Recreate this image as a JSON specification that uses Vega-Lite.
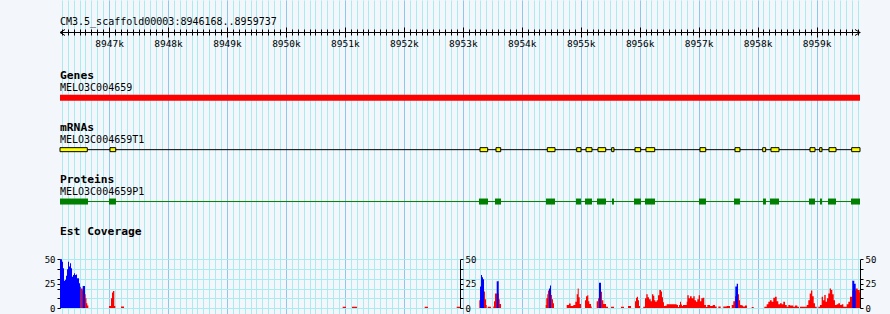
{
 "$schema": "https://vega.github.io/schema/vega-lite/v6.json",
 "width": 890, "height": 314, "padding": 0, "autosize": {"type": "none"},
 "background": "#f3f6fa",
 "config": {"view": {"stroke": null}, "font": "DejaVu Sans Mono", "axis": {"labelFont": "DejaVu Sans Mono", "titleFont": "DejaVu Sans Mono"}},
 "datasets": {
  "region": [{"seq": "CM3.5_scaffold00003", "start": 8946168, "end": 8959737, "label": "CM3.5_scaffold00003:8946168..8959737"}],
  "ends": [{"side": "left", "pos": 8946168}, {"side": "right", "pos": 8959737}],
  "titles": [{"track": "Genes"}, {"track": "mRNAs"}, {"track": "Proteins"}, {"track": "Est Coverage"}],
  "features": [
   {"track": "Genes", "name": "MELO3C004659", "start": 8946168, "end": 8959737},
   {"track": "mRNAs", "name": "MELO3C004659T1", "start": 8946168, "end": 8959737},
   {"track": "Proteins", "name": "MELO3C004659P1", "start": 8946168, "end": 8959737}
  ],
  "parts": [
   {"track": "mRNAs", "start": 8946168, "end": 8946631}, {"track": "mRNAs", "start": 8947016, "end": 8947113},
   {"track": "mRNAs", "start": 8953292, "end": 8953422}, {"track": "mRNAs", "start": 8953563, "end": 8953643},
   {"track": "mRNAs", "start": 8954433, "end": 8954564}, {"track": "mRNAs", "start": 8954932, "end": 8955005},
   {"track": "mRNAs", "start": 8955090, "end": 8955191}, {"track": "mRNAs", "start": 8955293, "end": 8955424},
   {"track": "mRNAs", "start": 8955525, "end": 8955564}, {"track": "mRNAs", "start": 8955921, "end": 8956017},
   {"track": "mRNAs", "start": 8956107, "end": 8956255}, {"track": "mRNAs", "start": 8957023, "end": 8957120},
   {"track": "mRNAs", "start": 8957617, "end": 8957701}, {"track": "mRNAs", "start": 8958087, "end": 8958137},
   {"track": "mRNAs", "start": 8958227, "end": 8958363}, {"track": "mRNAs", "start": 8958889, "end": 8958974},
   {"track": "mRNAs", "start": 8959053, "end": 8959092}, {"track": "mRNAs", "start": 8959211, "end": 8959330},
   {"track": "mRNAs", "start": 8959596, "end": 8959737},
   {"track": "Proteins", "start": 8946168, "end": 8946643}, {"track": "Proteins", "start": 8946999, "end": 8947118},
   {"track": "Proteins", "start": 8953275, "end": 8953427}, {"track": "Proteins", "start": 8953546, "end": 8953648},
   {"track": "Proteins", "start": 8954411, "end": 8954564}, {"track": "Proteins", "start": 8954920, "end": 8955005},
   {"track": "Proteins", "start": 8955073, "end": 8955191}, {"track": "Proteins", "start": 8955276, "end": 8955429},
   {"track": "Proteins", "start": 8955530, "end": 8955564}, {"track": "Proteins", "start": 8955904, "end": 8956022},
   {"track": "Proteins", "start": 8956090, "end": 8956260}, {"track": "Proteins", "start": 8957006, "end": 8957125},
   {"track": "Proteins", "start": 8957600, "end": 8957701}, {"track": "Proteins", "start": 8958092, "end": 8958142},
   {"track": "Proteins", "start": 8958210, "end": 8958363}, {"track": "Proteins", "start": 8958872, "end": 8958974},
   {"track": "Proteins", "start": 8959058, "end": 8959092}, {"track": "Proteins", "start": 8959194, "end": 8959330},
   {"track": "Proteins", "start": 8959584, "end": 8959737}
  ],
  "plus": [
   {"pos": 8946168, "depth": 50}, {"pos": 8946202, "depth": 47.6}, {"pos": 8946219, "depth": 40.7}, {"pos": 8946236, "depth": 28},
   {"pos": 8946253, "depth": 29}, {"pos": 8946270, "depth": 33}, {"pos": 8946287, "depth": 39.7}, {"pos": 8946304, "depth": 47.6},
   {"pos": 8946321, "depth": 42.5}, {"pos": 8946338, "depth": 45.9}, {"pos": 8946355, "depth": 40.7}, {"pos": 8946372, "depth": 32.2},
   {"pos": 8946389, "depth": 33.9}, {"pos": 8946405, "depth": 35.6}, {"pos": 8946422, "depth": 33.9}, {"pos": 8946439, "depth": 34.5},
   {"pos": 8946456, "depth": 30.5}, {"pos": 8946490, "depth": 25.3}, {"pos": 8946507, "depth": 21.9}, {"pos": 8946519, "depth": 0},
   {"pos": 8946553, "depth": 22.6}, {"pos": 8946592, "depth": 0},
   {"pos": 8953292, "depth": 22}, {"pos": 8953309, "depth": 34}, {"pos": 8953326, "depth": 31.5}, {"pos": 8953343, "depth": 29.5}, {"pos": 8953360, "depth": 0},
   {"pos": 8953575, "depth": 27.4}, {"pos": 8953609, "depth": 0},
   {"pos": 8954462, "depth": 20}, {"pos": 8954479, "depth": 23}, {"pos": 8954496, "depth": 0},
   {"pos": 8955310, "depth": 26}, {"pos": 8955344, "depth": 0},
   {"pos": 8957622, "depth": 22}, {"pos": 8957646, "depth": 25}, {"pos": 8957668, "depth": 0},
   {"pos": 8959606, "depth": 28}, {"pos": 8959640, "depth": 25}, {"pos": 8959664, "depth": 0}
  ],
  "minus": [
   {"pos": 8946519, "depth": 20}, {"pos": 8946553, "depth": 18}, {"pos": 8946592, "depth": 14}, {"pos": 8946604, "depth": 10},
   {"pos": 8946617, "depth": 5}, {"pos": 8946631, "depth": 2.5}, {"pos": 8946648, "depth": 0},
   {"pos": 8946999, "depth": 2}, {"pos": 8947033, "depth": 10}, {"pos": 8947050, "depth": 16}, {"pos": 8947067, "depth": 17.5},
   {"pos": 8947089, "depth": 2}, {"pos": 8947106, "depth": 0},
   {"pos": 8947203, "depth": 1.5}, {"pos": 8947254, "depth": 0},
   {"pos": 8950963, "depth": 1.2}, {"pos": 8951019, "depth": 0},
   {"pos": 8951121, "depth": 1.2}, {"pos": 8951206, "depth": 0},
   {"pos": 8952354, "depth": 1.2}, {"pos": 8952410, "depth": 0},
   {"pos": 8952897, "depth": 1.2}, {"pos": 8952953, "depth": 0},
   {"pos": 8953280, "depth": 8}, {"pos": 8953292, "depth": 10}, {"pos": 8953360, "depth": 17}, {"pos": 8953377, "depth": 9},
   {"pos": 8953393, "depth": 3}, {"pos": 8953405, "depth": 0}, {"pos": 8953422, "depth": 1.2}, {"pos": 8953478, "depth": 0},
   {"pos": 8953517, "depth": 1.5}, {"pos": 8953529, "depth": 7}, {"pos": 8953546, "depth": 15}, {"pos": 8953609, "depth": 9},
   {"pos": 8953626, "depth": 4}, {"pos": 8953648, "depth": 0},
   {"pos": 8954406, "depth": 3}, {"pos": 8954416, "depth": 10}, {"pos": 8954433, "depth": 14}, {"pos": 8954445, "depth": 18},
   {"pos": 8954496, "depth": 13.3}, {"pos": 8954513, "depth": 9}, {"pos": 8954530, "depth": 5}, {"pos": 8954547, "depth": 0},
   {"pos": 8954762, "depth": 3}, {"pos": 8954801, "depth": 4.5}, {"pos": 8954830, "depth": 2}, {"pos": 8954874, "depth": 3},
   {"pos": 8954908, "depth": 6.5}, {"pos": 8954932, "depth": 14}, {"pos": 8954949, "depth": 20}, {"pos": 8954966, "depth": 11},
   {"pos": 8954983, "depth": 4}, {"pos": 8955005, "depth": 0},
   {"pos": 8955073, "depth": 8}, {"pos": 8955090, "depth": 12}, {"pos": 8955112, "depth": 13}, {"pos": 8955129, "depth": 7},
   {"pos": 8955146, "depth": 4}, {"pos": 8955174, "depth": 1.5}, {"pos": 8955186, "depth": 0},
   {"pos": 8955271, "depth": 7}, {"pos": 8955293, "depth": 10}, {"pos": 8955344, "depth": 16.8}, {"pos": 8955361, "depth": 8},
   {"pos": 8955383, "depth": 4}, {"pos": 8955429, "depth": 1.4}, {"pos": 8955463, "depth": 0},
   {"pos": 8955514, "depth": 1.4}, {"pos": 8955565, "depth": 0},
   {"pos": 8955683, "depth": 1.4}, {"pos": 8955734, "depth": 0},
   {"pos": 8955802, "depth": 2}, {"pos": 8955853, "depth": 0},
   {"pos": 8955921, "depth": 7}, {"pos": 8955938, "depth": 10.5}, {"pos": 8955955, "depth": 11.6}, {"pos": 8955972, "depth": 8},
   {"pos": 8955989, "depth": 2}, {"pos": 8956006, "depth": 0},
   {"pos": 8956061, "depth": 1.4},
   {"pos": 8956090, "depth": 10}, {"pos": 8956112, "depth": 14}, {"pos": 8956136, "depth": 11}, {"pos": 8956158, "depth": 9},
   {"pos": 8956187, "depth": 7}, {"pos": 8956209, "depth": 14}, {"pos": 8956231, "depth": 12.5}, {"pos": 8956248, "depth": 8},
   {"pos": 8956265, "depth": 6.5}, {"pos": 8956289, "depth": 8}, {"pos": 8956311, "depth": 13}, {"pos": 8956333, "depth": 18.5},
   {"pos": 8956362, "depth": 17}, {"pos": 8956379, "depth": 11}, {"pos": 8956396, "depth": 6}, {"pos": 8956413, "depth": 2},
   {"pos": 8956430, "depth": 2.4}, {"pos": 8956458, "depth": 3.8}, {"pos": 8956565, "depth": 3.8}, {"pos": 8956628, "depth": 3},
   {"pos": 8956650, "depth": 1}, {"pos": 8956667, "depth": 3}, {"pos": 8956684, "depth": 6.4}, {"pos": 8956701, "depth": 3.5},
   {"pos": 8956718, "depth": 2}, {"pos": 8956735, "depth": 3}, {"pos": 8956786, "depth": 3}, {"pos": 8956798, "depth": 6.4},
   {"pos": 8956808, "depth": 13}, {"pos": 8956832, "depth": 10}, {"pos": 8956854, "depth": 12}, {"pos": 8956882, "depth": 10},
   {"pos": 8956910, "depth": 12}, {"pos": 8956933, "depth": 8}, {"pos": 8956955, "depth": 6.5}, {"pos": 8956977, "depth": 9},
   {"pos": 8957001, "depth": 13}, {"pos": 8957023, "depth": 7}, {"pos": 8957045, "depth": 10}, {"pos": 8957069, "depth": 10.5},
   {"pos": 8957096, "depth": 3}, {"pos": 8957125, "depth": 1}, {"pos": 8957147, "depth": 3}, {"pos": 8957193, "depth": 2},
   {"pos": 8957239, "depth": 3}, {"pos": 8957278, "depth": 1.5}, {"pos": 8957306, "depth": 0},
   {"pos": 8957334, "depth": 1.5}, {"pos": 8957374, "depth": 0},
   {"pos": 8957418, "depth": 1.5}, {"pos": 8957476, "depth": 2}, {"pos": 8957532, "depth": 0},
   {"pos": 8957561, "depth": 3}, {"pos": 8957588, "depth": 7}, {"pos": 8957617, "depth": 12}, {"pos": 8957668, "depth": 14},
   {"pos": 8957685, "depth": 8}, {"pos": 8957702, "depth": 3}, {"pos": 8957730, "depth": 2.5}, {"pos": 8957753, "depth": 1.5},
   {"pos": 8957786, "depth": 2.5}, {"pos": 8957820, "depth": 0},
   {"pos": 8957900, "depth": 1}, {"pos": 8957934, "depth": 0},
   {"pos": 8958114, "depth": 1.4}, {"pos": 8958154, "depth": 3.8}, {"pos": 8958182, "depth": 6.4}, {"pos": 8958210, "depth": 8},
   {"pos": 8958239, "depth": 6.4}, {"pos": 8958266, "depth": 10.6}, {"pos": 8958295, "depth": 11.6}, {"pos": 8958324, "depth": 7},
   {"pos": 8958351, "depth": 3.8}, {"pos": 8958380, "depth": 5}, {"pos": 8958409, "depth": 3.8}, {"pos": 8958436, "depth": 6.4},
   {"pos": 8958465, "depth": 3}, {"pos": 8958494, "depth": 1.4}, {"pos": 8958521, "depth": 3}, {"pos": 8958550, "depth": 2.5},
   {"pos": 8958606, "depth": 1.4}, {"pos": 8958635, "depth": 2.5}, {"pos": 8958674, "depth": 1.4}, {"pos": 8958702, "depth": 0},
   {"pos": 8958719, "depth": 1.4}, {"pos": 8958833, "depth": 3}, {"pos": 8958860, "depth": 8}, {"pos": 8958884, "depth": 15},
   {"pos": 8958906, "depth": 18}, {"pos": 8958928, "depth": 12}, {"pos": 8958952, "depth": 5}, {"pos": 8958974, "depth": 1.4},
   {"pos": 8959003, "depth": 0},
   {"pos": 8959030, "depth": 1.4}, {"pos": 8959059, "depth": 3}, {"pos": 8959087, "depth": 11.6}, {"pos": 8959109, "depth": 8},
   {"pos": 8959131, "depth": 13.3}, {"pos": 8959155, "depth": 6.4}, {"pos": 8959177, "depth": 9.9}, {"pos": 8959199, "depth": 15},
   {"pos": 8959223, "depth": 20}, {"pos": 8959245, "depth": 18.5}, {"pos": 8959267, "depth": 14}, {"pos": 8959291, "depth": 8},
   {"pos": 8959313, "depth": 3}, {"pos": 8959342, "depth": 3.8}, {"pos": 8959369, "depth": 4.8}, {"pos": 8959398, "depth": 3},
   {"pos": 8959427, "depth": 3.8}, {"pos": 8959454, "depth": 1.4}, {"pos": 8959511, "depth": 3.8}, {"pos": 8959539, "depth": 6.4},
   {"pos": 8959567, "depth": 11.6}, {"pos": 8959606, "depth": 18}, {"pos": 8959664, "depth": 20}, {"pos": 8959698, "depth": 18.5},
   {"pos": 8959732, "depth": 16}, {"pos": 8959737, "depth": 0}
  ]
 },
 "resolve": {"scale": {"y": "independent"}, "axis": {"x": "independent", "y": "independent"}},
 "layer": [
  {"data": {"name": "region"}, "mark": {"type": "rule", "opacity": 0},
   "encoding": {"x": {"field": "start", "type": "quantitative",
     "scale": {"domain": [8946168, 8959737], "range": [60, 860], "nice": false, "zero": false},
     "axis": {"orient": "bottom", "grid": true, "gridColor": "#a9ebef", "gridOpacity": 1, "gridWidth": 1, "tickCount": 136, "labels": false, "ticks": false, "domain": false, "title": null}}}},
  {"data": {"name": "region"}, "mark": {"type": "rule", "opacity": 0},
   "encoding": {"x": {"field": "start", "type": "quantitative",
     "scale": {"domain": [8946168, 8959737], "range": [60, 860], "nice": false, "zero": false},
     "axis": {"orient": "bottom", "grid": true, "gridColor": "#8cc8ee", "gridOpacity": 1, "gridWidth": 1, "tickCount": 13, "labels": false, "ticks": false, "domain": false, "title": null}}}},
  {"data": {"name": "region"}, "mark": {"type": "rule", "opacity": 0},
   "encoding": {"x": {"field": "start", "type": "quantitative",
     "scale": {"domain": [8946168, 8959737], "range": [60, 860], "nice": false, "zero": false},
     "axis": {"orient": "bottom", "offset": -282, "grid": false, "tickCount": 136, "ticks": true, "tickSize": 3, "tickColor": "#000000", "tickWidth": 1, "labels": false, "domain": true, "domainColor": "#000000", "domainWidth": 1, "title": null}}}},
  {"data": {"name": "region"}, "mark": {"type": "rule", "opacity": 0},
   "encoding": {"x": {"field": "start", "type": "quantitative",
     "scale": {"domain": [8946168, 8959737], "range": [60, 860], "nice": false, "zero": false},
     "axis": {"orient": "bottom", "offset": -282, "grid": false, "tickCount": 13, "ticks": true, "tickSize": 5, "tickColor": "#000000", "tickWidth": 1, "labels": true, "labelExpr": "floor(datum.value / 1000) + 'k'", "labelFontSize": 9.5, "labelColor": "#000000", "labelPadding": 1, "labelOverlap": false, "labelFlush": false, "domain": false, "title": null}}}},
  {"data": {"name": "region"}, "mark": {"type": "rule", "opacity": 0},
   "encoding": {"x": {"field": "start", "type": "quantitative",
     "scale": {"domain": [8946168, 8959737], "range": [60, 860], "nice": false, "zero": false},
     "axis": {"orient": "top", "offset": -32, "grid": false, "tickCount": 136, "ticks": true, "tickSize": 3, "tickColor": "#000000", "tickWidth": 1, "labels": false, "domain": false, "title": null}}}},
  {"data": {"name": "region"}, "mark": {"type": "rule", "opacity": 0},
   "encoding": {"x": {"field": "start", "type": "quantitative",
     "scale": {"domain": [8946168, 8959737], "range": [60, 860], "nice": false, "zero": false},
     "axis": {"orient": "top", "offset": -32, "grid": false, "tickCount": 13, "ticks": true, "tickSize": 5, "tickColor": "#000000", "tickWidth": 1, "labels": false, "domain": false, "title": null}}}},
  {"layer": [
    {"data": {"name": "region"}, "mark": {"type": "text", "align": "left", "baseline": "middle", "dy": -11, "fontSize": 10, "color": "#000000"},
     "encoding": {"x": {"field": "start", "type": "quantitative", "scale": {"domain": [8946168, 8959737], "range": [60, 860], "nice": false, "zero": false}, "axis": null},
      "y": {"datum": "ruler", "type": "nominal", "scale": {"type": "point", "domain": ["ruler"], "range": [0, 65], "padding": 0}, "axis": null},
      "text": {"field": "label"}}},
    {"data": {"name": "ends"}, "mark": {"type": "point", "filled": false, "stroke": "#000000", "strokeWidth": 1, "size": 36, "opacity": 1},
     "encoding": {"x": {"field": "pos", "type": "quantitative", "scale": {"domain": [8946168, 8959737], "range": [60, 860], "nice": false, "zero": false}, "axis": null},
      "y": {"datum": "ruler", "type": "nominal", "scale": {"type": "point", "domain": ["ruler"], "range": [0, 65], "padding": 0}, "axis": null},
      "shape": {"field": "side", "type": "nominal", "scale": {"domain": ["left", "right"], "range": ["M 1.667 -1 L 0 0 L 1.667 1", "M -1.667 -1 L 0 0 L -1.667 1"]}, "legend": null}}}
  ]},
  {"layer": [
    {"data": {"name": "titles"}, "mark": {"type": "text", "align": "left", "baseline": "middle", "dy": -21.8, "fontSize": 11.3, "fontWeight": "bold", "color": "#000000"},
     "encoding": {"x": {"datum": 8946168, "type": "quantitative", "scale": {"domain": [8946168, 8959737], "range": [60, 860], "nice": false, "zero": false}, "axis": null},
      "y": {"field": "track", "type": "nominal", "scale": {"type": "point", "domain": ["Genes", "mRNAs", "Proteins", "Est Coverage"], "range": [97.8, 253.4], "padding": 0}, "axis": null},
      "text": {"field": "track"}}},
    {"data": {"name": "features"}, "mark": {"type": "text", "align": "left", "baseline": "middle", "dy": -9.8, "fontSize": 10, "color": "#000000"},
     "encoding": {"x": {"field": "start", "type": "quantitative", "scale": {"domain": [8946168, 8959737], "range": [60, 860], "nice": false, "zero": false}, "axis": null},
      "y": {"field": "track", "type": "nominal", "scale": {"type": "point", "domain": ["Genes", "mRNAs", "Proteins", "Est Coverage"], "range": [97.8, 253.4], "padding": 0}, "axis": null},
      "text": {"field": "name"}}},
    {"data": {"name": "features"}, "transform": [{"filter": "datum.track === 'Genes'"}],
     "mark": {"type": "bar", "size": 6, "color": "#ff0000"},
     "encoding": {"x": {"field": "start", "type": "quantitative", "scale": {"domain": [8946168, 8959737], "range": [60, 860], "nice": false, "zero": false}, "axis": null},
      "x2": {"field": "end"},
      "y": {"field": "track", "type": "nominal", "scale": {"type": "point", "domain": ["Genes", "mRNAs", "Proteins", "Est Coverage"], "range": [97.8, 253.4], "padding": 0}, "axis": null}}},
    {"data": {"name": "features"}, "transform": [{"filter": "datum.track === 'mRNAs'"}],
     "mark": {"type": "rule", "color": "#000000", "strokeWidth": 1},
     "encoding": {"x": {"field": "start", "type": "quantitative", "scale": {"domain": [8946168, 8959737], "range": [60, 860], "nice": false, "zero": false}, "axis": null},
      "x2": {"field": "end"},
      "y": {"field": "track", "type": "nominal", "scale": {"type": "point", "domain": ["Genes", "mRNAs", "Proteins", "Est Coverage"], "range": [97.8, 253.4], "padding": 0}, "axis": null}}},
    {"data": {"name": "features"}, "transform": [{"filter": "datum.track === 'Proteins'"}],
     "mark": {"type": "rule", "color": "#008000", "strokeWidth": 1},
     "encoding": {"x": {"field": "start", "type": "quantitative", "scale": {"domain": [8946168, 8959737], "range": [60, 860], "nice": false, "zero": false}, "axis": null},
      "x2": {"field": "end"},
      "y": {"field": "track", "type": "nominal", "scale": {"type": "point", "domain": ["Genes", "mRNAs", "Proteins", "Est Coverage"], "range": [97.8, 253.4], "padding": 0}, "axis": null}}},
    {"data": {"name": "parts"}, "transform": [{"filter": "datum.track === 'mRNAs'"}],
     "mark": {"type": "bar", "size": 4, "fill": "#ffff00", "stroke": "#000000", "strokeWidth": 1},
     "encoding": {"x": {"field": "start", "type": "quantitative", "scale": {"domain": [8946168, 8959737], "range": [60, 860], "nice": false, "zero": false}, "axis": null},
      "x2": {"field": "end"},
      "y": {"field": "track", "type": "nominal", "scale": {"type": "point", "domain": ["Genes", "mRNAs", "Proteins", "Est Coverage"], "range": [97.8, 253.4], "padding": 0}, "axis": null}}},
    {"data": {"name": "parts"}, "transform": [{"filter": "datum.track === 'Proteins'"}],
     "mark": {"type": "bar", "size": 6, "color": "#008000"},
     "encoding": {"x": {"field": "start", "type": "quantitative", "scale": {"domain": [8946168, 8959737], "range": [60, 860], "nice": false, "zero": false}, "axis": null},
      "x2": {"field": "end"},
      "y": {"field": "track", "type": "nominal", "scale": {"type": "point", "domain": ["Genes", "mRNAs", "Proteins", "Est Coverage"], "range": [97.8, 253.4], "padding": 0}, "axis": null}}}
  ]},
  {"resolve": {"axis": {"y": "independent"}},
   "layer": [
    {"data": {"name": "minus"}, "mark": {"type": "area", "interpolate": "step-after", "color": "#ff0000", "opacity": 1},
     "encoding": {"x": {"field": "pos", "type": "quantitative", "scale": {"domain": [8946168, 8959737], "range": [60, 860], "nice": false, "zero": false}, "axis": null},
      "y": {"field": "depth", "type": "quantitative", "scale": {"domain": [0, 50], "range": [308, 259.3], "nice": false, "zero": true},
       "axis": {"orient": "left", "offset": -60, "grid": true, "gridColor": "#a9ebef", "gridOpacity": 1, "gridWidth": 1, "values": [0, 10, 20, 30, 40, 50], "labels": false, "ticks": false, "domain": false, "title": null}}}},
    {"data": {"name": "plus"}, "mark": {"type": "area", "interpolate": "step-after", "color": "#0000ff", "opacity": 1},
     "encoding": {"x": {"field": "pos", "type": "quantitative", "scale": {"domain": [8946168, 8959737], "range": [60, 860], "nice": false, "zero": false}, "axis": null},
      "y": {"field": "depth", "type": "quantitative", "scale": {"domain": [0, 50], "range": [308, 259.3], "nice": false, "zero": true},
       "axis": {"orient": "left", "offset": -60, "grid": false, "values": [0, 10, 20, 25, 30, 40, 50], "labelExpr": "datum.value == 0 || datum.value == 25 || datum.value == 50 ? datum.label : ''", "labelFontSize": 9, "labelColor": "#000000", "labelPadding": 2, "labelOverlap": false, "labelFlush": false, "ticks": true, "tickSize": 3, "tickColor": "#000000", "domain": true, "domainColor": "#000000", "title": null}}}},
    {"data": {"name": "region"}, "mark": {"type": "point", "opacity": 0},
     "encoding": {"x": {"field": "start", "type": "quantitative", "scale": {"domain": [8946168, 8959737], "range": [60, 860], "nice": false, "zero": false}, "axis": null},
      "y": {"datum": 0, "type": "quantitative", "scale": {"domain": [0, 50], "range": [308, 259.3], "nice": false, "zero": true},
       "axis": {"orient": "right", "offset": -430, "grid": false, "values": [0, 10, 20, 25, 30, 40, 50], "labelExpr": "datum.value == 0 || datum.value == 25 || datum.value == 50 ? datum.label : ''", "labelFontSize": 9, "labelColor": "#000000", "labelPadding": 2, "labelOverlap": false, "labelFlush": false, "ticks": true, "tickSize": 3, "tickColor": "#000000", "domain": true, "domainColor": "#000000", "title": null}}}},
    {"data": {"name": "region"}, "mark": {"type": "point", "opacity": 0},
     "encoding": {"x": {"field": "start", "type": "quantitative", "scale": {"domain": [8946168, 8959737], "range": [60, 860], "nice": false, "zero": false}, "axis": null},
      "y": {"datum": 0, "type": "quantitative", "scale": {"domain": [0, 50], "range": [308, 259.3], "nice": false, "zero": true},
       "axis": {"orient": "right", "offset": -30, "grid": false, "values": [0, 10, 20, 25, 30, 40, 50], "labelExpr": "datum.value == 0 || datum.value == 25 || datum.value == 50 ? datum.label : ''", "labelFontSize": 9, "labelColor": "#000000", "labelPadding": 2, "labelOverlap": false, "labelFlush": false, "ticks": true, "tickSize": 3, "tickColor": "#000000", "domain": true, "domainColor": "#000000", "title": null}}}}
  ]}
 ]
}
